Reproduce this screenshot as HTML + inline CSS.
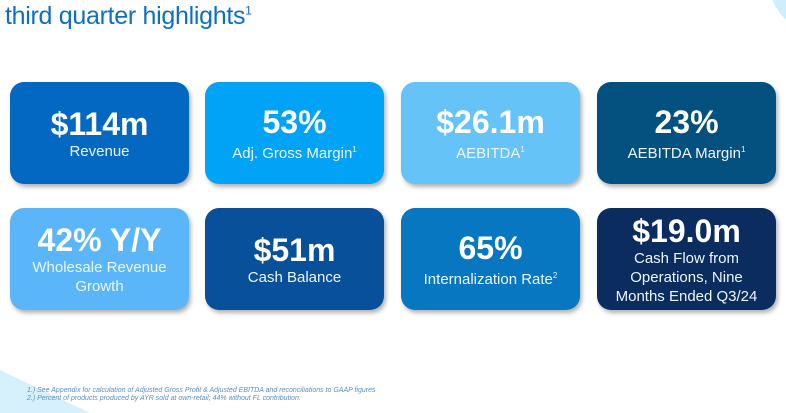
<!DOCTYPE html>
<html><head><meta charset="utf-8"><style>
html,body{margin:0;width:786px;height:413px;overflow:hidden;background:#fff;font-family:"Liberation Sans",sans-serif;position:relative}
.t{position:absolute;left:5px;top:2px;font-size:25px;color:#0a6fc9;letter-spacing:-0.3px}
.t sup{font-size:12px}
.c{position:absolute;width:179px;height:102px;border-radius:14px;color:#fff;text-align:center;box-shadow:2px 3px 4px rgba(0,0,0,.3);display:flex;flex-direction:column;justify-content:center}
.v{font-size:32px;font-weight:bold;line-height:36px}
.l{font-size:15px;line-height:19px;color:#eef6ff}
.l sup{font-size:8px}
.fn{position:absolute;left:27px;font-size:7px;font-style:italic;color:#5a8fc0}
</style></head><body>
<div style="position:absolute;left:0;top:0;width:786px;height:413px;overflow:hidden">
<div style="position:absolute;left:770px;top:-60px;width:90px;height:90px;border-radius:50%;background:#cdeefd"></div>
<div style="position:absolute;left:0;top:370px;width:0;height:0;border-left:90px solid #d6f0fc;border-top:43px solid transparent"></div>
</div>
<div class="t">third quarter highlights<sup>1</sup></div>
<div class="c" style="left:10px;top:82px;background:#0268c2"><div class="v">$114m</div><div class="l">Revenue</div></div>
<div class="c" style="left:205px;top:82px;background:#00a3f5"><div class="v">53%</div><div class="l">Adj. Gross Margin<sup>1</sup></div></div>
<div class="c" style="left:401px;top:82px;background:#66c3f7"><div class="v">$26.1m</div><div class="l">AEBITDA<sup>1</sup></div></div>
<div class="c" style="left:597px;top:82px;background:#04517f"><div class="v">23%</div><div class="l">AEBITDA Margin<sup>1</sup></div></div>
<div class="c" style="left:10px;top:208px;background:#5ab6f8"><div class="v">42% Y/Y</div><div class="l">Wholesale Revenue<br>Growth</div></div>
<div class="c" style="left:205px;top:208px;background:#08509a"><div class="v">$51m</div><div class="l">Cash Balance</div></div>
<div class="c" style="left:401px;top:208px;background:#0677c0"><div class="v">65%</div><div class="l">Internalization Rate<sup>2</sup></div></div>
<div class="c" style="left:597px;top:208px;background:#0a2c5e"><div class="v">$19.0m</div><div class="l">Cash Flow from<br>Operations, Nine<br>Months Ended Q3/24</div></div>
<div class="fn" style="top:387px">1.) See Appendix for calculation of Adjusted Gross Profit &amp; Adjusted EBITDA and reconciliations to GAAP figures</div>
<div class="fn" style="top:395px">2.) Percent of products produced by AYR sold at own-retail; 44% without FL contribution.</div>
</body></html>
